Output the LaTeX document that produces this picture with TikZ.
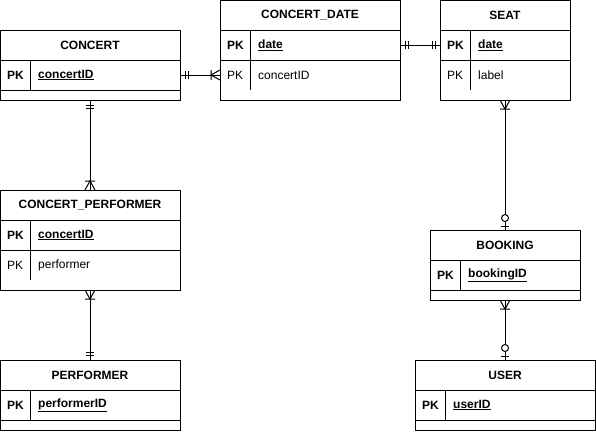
\documentclass[tikz,border=0pt]{standalone}
\usepackage{fontspec}
\setmainfont{Liberation Sans}
\usetikzlibrary{calc}

\tikzset{
    entity/.style={draw, line width=1pt, inner sep=0pt, outer sep=0pt, anchor=north west},
    title/.style={font=\fontsize{12}{14}\selectfont\bfseries, inner sep=0pt},
    keytag/.style={font=\fontsize{12}{14}\selectfont\bfseries, anchor=west, inner sep=0pt},
    attr/.style={font=\fontsize{12}{14}\selectfont, anchor=west, inner sep=0pt},
    rel/.style={line width=1pt},
    mandone/.pic={\draw[rel] (5,-4) -- (5,4) (8,-4) -- (8,4);},
    onemany/.pic={\draw[rel] (0,-5) -- (9,0) -- (0,5) (9,-5) -- (9,5);},
    zeroone/.pic={\draw[rel] (4,-4) -- (4,4); \draw[rel, fill=white] (12,0) circle (3.5pt);},
}

\begin{document}
\begin{tikzpicture}[x=1pt, y=-1pt]
    \useasboundingbox (0,0) rectangle (596,431);

    % CONCERT
    \node[entity, minimum width=180pt, minimum height=70pt] (concert) at (0,30) {};
    \draw[rel] (0,60) -- (180,60) (0,90) -- (180,90) (30,60) -- (30,90);
    \node[title] (concerttitle) at (90,45) {CONCERT};
    \node[keytag] (concertpk) at (7,75) {PK};
    \node[keytag] (concertid) at (38,75) {\underline{concertID}};

    % CONCERT_DATE
    \node[entity, minimum width=180pt, minimum height=100pt] (cdate) at (220,0) {};
    \draw[rel] (220,30) -- (400,30) (220,60) -- (400,60) (250,30) -- (250,90);
    \node[title] (cdatetitle) at (310,15) {CONCERT\_DATE};
    \node[keytag] (cdatepk) at (227,45) {PK};
    \node[keytag] (cddate) at (258,45) {\underline{date}};
    \node[attr] (cdatepk2) at (227,75) {PK};
    \node[attr] (cdconcert) at (258,75) {concertID};

    % SEAT
    \node[entity, minimum width=130pt, minimum height=100pt] (seat) at (440,0) {};
    \draw[rel] (440,30) -- (570,30) (440,60) -- (570,60) (470,30) -- (470,90);
    \node[title] (seattitle) at (505,15) {SEAT};
    \node[keytag] (seatpk) at (447,45) {PK};
    \node[keytag] (seatdate) at (478,45) {\underline{date}};
    \node[attr] (seatpk2) at (447,75) {PK};
    \node[attr] (seatlabel) at (478,75) {label};

    % CONCERT_PERFORMER
    \node[entity, minimum width=180pt, minimum height=100pt] (cperf) at (0,190) {};
    \draw[rel] (0,220) -- (180,220) (0,250) -- (180,250) (30,220) -- (30,280);
    \node[title] (cperftitle) at (90,205) {CONCERT\_PERFORMER};
    \node[keytag] (cperfpk) at (7,235) {PK};
    \node[keytag] (cperfconcert) at (38,235) {\underline{concertID}};
    \node[attr] (cperfpk2) at (7,265) {PK};
    \node[attr] (cperfperformer) at (38,265) {performer};

    % BOOKING
    \node[entity, minimum width=150pt, minimum height=70pt] (booking) at (430,230) {};
    \draw[rel] (430,260) -- (580,260) (430,290) -- (580,290) (460,260) -- (460,290);
    \node[title] (bookingtitle) at (505,245) {BOOKING};
    \node[keytag] (bookingpk) at (437,275) {PK};
    \node[keytag] (bookingid) at (468,275) {\underline{bookingID}};

    % PERFORMER
    \node[entity, minimum width=180pt, minimum height=70pt] (performer) at (0,360) {};
    \draw[rel] (0,390) -- (180,390) (0,420) -- (180,420) (30,390) -- (30,420);
    \node[title] (performertitle) at (90,375) {PERFORMER};
    \node[keytag] (performerpk) at (7,405) {PK};
    \node[keytag] (performerid) at (38,405) {\underline{performerID}};

    % USER
    \node[entity, minimum width=180pt, minimum height=70pt] (user) at (415,360) {};
    \draw[rel] (415,390) -- (595,390) (415,420) -- (595,420) (445,390) -- (445,420);
    \node[title] (usertitle) at (505,375) {USER};
    \node[keytag] (userpk) at (422,405) {PK};
    \node[keytag] (userid) at (453,405) {\underline{userID}};

    % relationships
    \draw[rel] (concert.east |- concertid) -- (cdate.west |- cdconcert);
    \pic at (concert.east |- concertid) {mandone};
    \pic[rotate=180] at (cdate.west |- cdconcert) {onemany};

    \draw[rel] (cdate.east |- cddate) -- (seat.west |- seatdate);
    \pic at (cdate.east |- cddate) {mandone};
    \pic[rotate=180] at (seat.west |- seatdate) {mandone};

    \draw[rel] (concert.south) -- (cperf.north);
    \pic[rotate=-90] at (concert.south) {mandone};
    \pic[rotate=90] at (cperf.north) {onemany};

    \draw[rel] (cperf.south) -- (performer.north);
    \pic[rotate=-90] at (cperf.south) {onemany};
    \pic[rotate=90] at (performer.north) {mandone};

    \draw[rel] (seat.south) -- (booking.north);
    \pic[rotate=-90] at (seat.south) {onemany};
    \pic[rotate=90] at (booking.north) {zeroone};

    \draw[rel] (booking.south) -- (user.north);
    \pic[rotate=-90] at (booking.south) {onemany};
    \pic[rotate=90] at (user.north) {zeroone};
\end{tikzpicture}
\end{document}
